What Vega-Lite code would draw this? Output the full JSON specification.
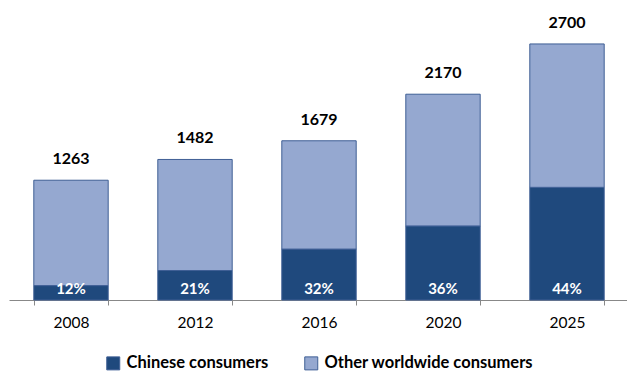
{
  "$schema": "https://vega.github.io/schema/vega-lite/v6.json",
  "autosize": {"type": "none"},
  "width": 620,
  "height": 290,
  "padding": {"left": 9, "top": 10, "right": -2, "bottom": 74},
  "background": "white",
  "config": {"view": {"stroke": null}, "font": "Lato"},
  "data": {"values": [
    {"year": "2008", "series": "Chinese consumers", "value": 152, "total": 1263, "pct": "12%"},
    {"year": "2008", "series": "Other worldwide consumers", "value": 1111, "total": 1263, "pct": "12%"},
    {"year": "2012", "series": "Chinese consumers", "value": 311, "total": 1482, "pct": "21%"},
    {"year": "2012", "series": "Other worldwide consumers", "value": 1171, "total": 1482, "pct": "21%"},
    {"year": "2016", "series": "Chinese consumers", "value": 537, "total": 1679, "pct": "32%"},
    {"year": "2016", "series": "Other worldwide consumers", "value": 1142, "total": 1679, "pct": "32%"},
    {"year": "2020", "series": "Chinese consumers", "value": 781, "total": 2170, "pct": "36%"},
    {"year": "2020", "series": "Other worldwide consumers", "value": 1389, "total": 2170, "pct": "36%"},
    {"year": "2025", "series": "Chinese consumers", "value": 1188, "total": 2700, "pct": "44%"},
    {"year": "2025", "series": "Other worldwide consumers", "value": 1512, "total": 2700, "pct": "44%"}
  ]},
  "encoding": {
    "x": {"field": "year", "type": "nominal", "scale": {"paddingInner": 0.4, "paddingOuter": 0.2},
      "axis": {"title": null, "labelAngle": 0, "labelFontSize": 15.5, "labelColor": "#000000", "labelFont": "Lato",
        "domainColor": "#888888", "tickColor": "#888888", "tickSize": 5, "tickBand": "extent", "labelPadding": 10, "grid": false}}
  },
  "layer": [
    {
      "mark": {"type": "bar", "stroke": "#3F5F95", "strokeWidth": 1},
      "encoding": {
        "y": {"field": "value", "type": "quantitative", "stack": "zero", "scale": {"domain": [0, 3058], "nice": false}, "axis": null},
        "order": {"field": "series", "type": "nominal", "sort": "ascending"},
        "color": {"field": "series", "type": "nominal",
          "scale": {"domain": ["Chinese consumers", "Other worldwide consumers"], "range": ["#1F497D", "#95A8D0"]},
          "legend": {"title": null, "orient": "none", "direction": "horizontal", "legendX": 96, "legendY": 345,
            "labelFontSize": 16.5, "labelFontWeight": "bold", "labelColor": "#000000", "labelFont": "Lato", "labelLimit": 400,
            "symbolType": "square", "symbolSize": 169, "symbolStrokeColor": "#3F5F95", "symbolStrokeWidth": 1,
            "symbolOpacity": 1, "columnPadding": 33, "labelOffset": 5}}
      }
    },
    {
      "transform": [{"filter": "datum.series === 'Chinese consumers'"}],
      "mark": {"type": "text", "fontSize": 16, "fontWeight": "bold", "color": "#000000", "baseline": "bottom", "dy": -13},
      "encoding": {
        "y": {"field": "total", "type": "quantitative"},
        "text": {"field": "total", "type": "quantitative", "format": "d"}
      }
    },
    {
      "transform": [{"filter": "datum.series === 'Chinese consumers'"}],
      "mark": {"type": "text", "fontSize": 15, "fontWeight": "bold", "color": "#FFFFFF", "baseline": "middle", "dy": -11},
      "encoding": {
        "y": {"datum": 0, "type": "quantitative"},
        "text": {"field": "pct", "type": "nominal"}
      }
    }
  ]
}
